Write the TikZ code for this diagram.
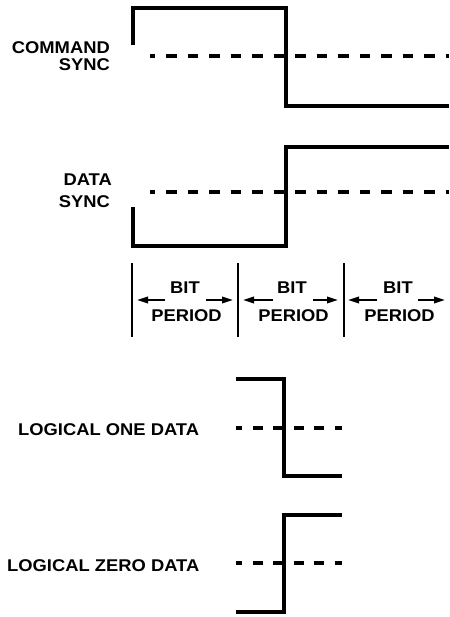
\documentclass[tikz,border=0pt]{standalone}
\usepackage{fontspec}
\newfontfamily\lbl{Liberation Sans Bold}[FakeStretch=1.08]
\usetikzlibrary{arrows.meta}
\begin{document}
\begin{tikzpicture}[x=1pt,y=-1pt,
  wave/.style={line width=3.4pt,line join=miter},
  refline/.style={line width=3.4pt,dash pattern=on 10.5pt off 11pt,dash phase=5.5pt},
  refshort/.style={line width=3.4pt,dash pattern=on 10pt off 10.5pt,dash phase=4pt},
  divider/.style={line width=2pt},
  span/.style={line width=1.8pt,-{Triangle[length=11pt,width=6.5pt]}},
  lab/.style={inner sep=0pt,font=\lbl\fontsize{17}{19}\selectfont}]
\useasboundingbox (0,0) rectangle (449,617);
% COMMAND SYNC
\draw[wave] (133,45) -- (133,8) -- (286,8) -- (286,106) -- (449,106);
\draw[refline] (150,56) -- (449,56);
\node[lab,anchor=base east] (cmd1) at (110,54) {COMMAND};
\node[lab,anchor=base east] (cmd2) at (110,70.7) {SYNC};
% DATA SYNC
\draw[wave] (133,207) -- (133,246) -- (286,246) -- (286,147) -- (449,147);
\draw[refline] (150,192) -- (449,192);
\node[lab,anchor=base east] (dat1) at (112,185.7) {DATA};
\node[lab,anchor=base east] (dat2) at (110,207.7) {SYNC};
% BIT PERIODS
\foreach \x in {132,238,344} \draw[divider] (\x,263) -- (\x,337);
\foreach \i/\c/\la/\lb/\ra/\rb in {1/185/165/137/206/233, 2/292/273/243/313/338, 3/398/377/348/418/445} {
  \coordinate (l\i a) at (\la,300);
  \coordinate (l\i b) at (\lb,300);
  \coordinate (r\i a) at (\ra,300);
  \coordinate (r\i b) at (\rb,300);
  \draw[span] (l\i a) -- (l\i b);
  \draw[span] (r\i a) -- (r\i b);
  \node[lab,anchor=base] (bit\i) at (\c,293.3) {BIT};
  \node[lab,anchor=base] (per\i) at (\c+1.5,321.7) {PERIOD};
}
% LOGICAL ONE
\draw[wave] (236,379) -- (284,379) -- (284,476) -- (342,476);
\draw[refshort] (236,428) -- (342,428);
\node[lab,anchor=base west] (one) at (18,435) {LOGICAL ONE DATA};
% LOGICAL ZERO
\draw[wave] (236,612) -- (284,612) -- (284,515) -- (342,515);
\draw[refshort] (236,563) -- (342,563);
\node[lab,anchor=base west] (zero) at (7,571.7) {LOGICAL ZERO DATA};
\end{tikzpicture}
\end{document}
